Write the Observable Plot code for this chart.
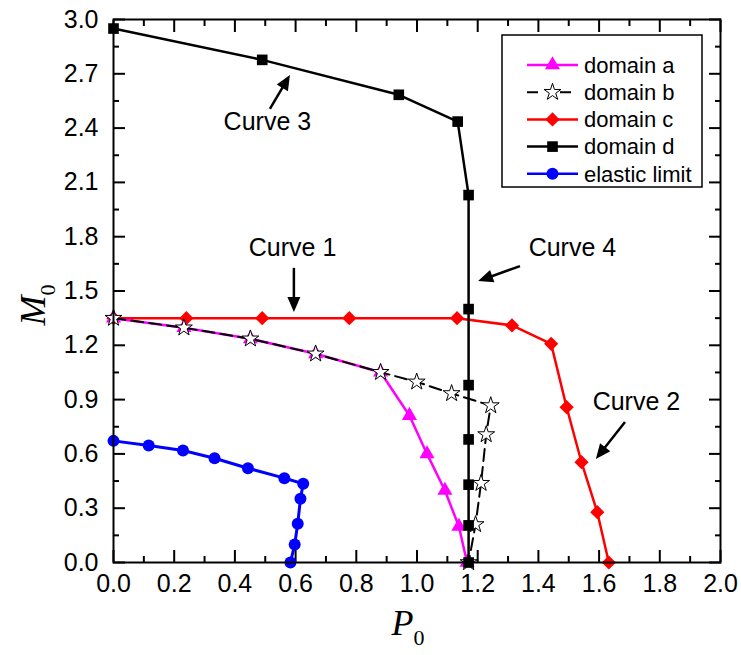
<!DOCTYPE html>
<html><head><meta charset="utf-8">
<script src="https://cdn.jsdelivr.net/npm/d3@7"></script>
<script src="https://cdn.jsdelivr.net/npm/@observablehq/plot@0.6"></script>
<style>
body{margin:0;background:#fff}
#chart{width:741px;height:655px}
</style>
</head><body><div id="chart"></div>
<script>
// ---- data: [P0, M0]
const domainA = [[0,1.35],[0.232,1.297],[0.451,1.236],[0.666,1.153],[0.88,1.051],[0.975,0.812],[1.033,0.60],[1.092,0.398],[1.138,0.199],[1.165,0]];
const domainB = [[0,1.35],[0.232,1.297],[0.451,1.236],[0.666,1.153],[0.88,1.051],[0.999,0.998],[1.114,0.934],[1.243,0.867],[1.228,0.707],[1.211,0.438],[1.193,0.21],[1.17,0]];
const domainC = [[0,1.35],[0.24,1.35],[0.49,1.35],[0.777,1.35],[1.132,1.35],[1.313,1.31],[1.442,1.208],[1.493,0.858],[1.542,0.554],[1.594,0.278],[1.632,0]];
const domainD = [[0,2.95],[0.49,2.777],[0.94,2.584],[1.134,2.436],[1.17,2.03],[1.17,1.40],[1.17,0.98],[1.17,0.68],[1.17,0.43],[1.17,0.205],[1.17,0]];
const elastic = [[0,0.672],[0.116,0.646],[0.229,0.619],[0.333,0.576],[0.443,0.521],[0.563,0.466],[0.625,0.435],[0.616,0.352],[0.607,0.214],[0.597,0.099],[0.583,0]];

const seriesNames = ["domain a","domain b","domain c","domain d","elastic limit"];
const xTickLabels = [0,0.2,0.4,0.6,0.8,1.0,1.2,1.4,1.6,1.8,2.0];
const xMinorTicks = [0.1,0.3,0.5,0.7,0.9,1.1,1.3,1.5,1.7,1.9];
const yTickLabels = [0,0.3,0.6,0.9,1.2,1.5,1.8,2.1,2.4,2.7,3.0];
const yMinorTicks = [0.15,0.45,0.75,1.05,1.35,1.65,1.95,2.25,2.55,2.85];

// annotations: label, text position, arrow tail, arrow tip
const annLabels = ["Curve 1","Curve 2","Curve 3","Curve 4"];
const annText = [[0.590,1.735],[1.723,0.884],[0.507,2.436],[1.512,1.735]];
const annTail = [[0.596,1.625],[1.687,0.773],[0.517,2.503],[1.341,1.635]];
const annTip  = [[0.596,1.381],[1.591,0.569],[0.583,2.691],[1.203,1.552]];

const rows = s => s.map(([p,m]) => ({p,m}));
const ann = annLabels.map((t,i) => ({t, x:annText[i][0], y:annText[i][1]}));

const FONT = "'Liberation Sans', Arial, sans-serif";

const plot = Plot.plot({
  width: 741, height: 655,
  marginLeft: 113, marginRight: 21, marginTop: 19, marginBottom: 93,
  style: {fontFamily: FONT, fontSize: "25px", color: "#000", background: "#fff", overflow: "visible"},
  x: {domain: [0, 2], label: null},
  y: {domain: [0, 3], label: null},
  marks: [
    // ticks (inward)
    Plot.axisX({anchor:"bottom", ticks: xTickLabels, tickSize: -12, text: null, strokeWidth: 2}),
    Plot.axisX({anchor:"bottom", ticks: xMinorTicks, tickSize: -6, text: null, strokeWidth: 2}),
    Plot.axisX({anchor:"top", ticks: xTickLabels, tickSize: -12, text: null, strokeWidth: 2}),
    Plot.axisX({anchor:"top", ticks: xMinorTicks, tickSize: -6, text: null, strokeWidth: 2}),
    Plot.axisY({anchor:"left", ticks: yTickLabels, tickSize: -12, text: null, strokeWidth: 2}),
    Plot.axisY({anchor:"left", ticks: yMinorTicks, tickSize: -6, text: null, strokeWidth: 2}),
    Plot.axisY({anchor:"right", ticks: yTickLabels, tickSize: -12, text: null, strokeWidth: 2}),
    Plot.axisY({anchor:"right", ticks: yMinorTicks, tickSize: -6, text: null, strokeWidth: 2}),
    // tick labels
    Plot.axisX({anchor:"bottom", ticks: xTickLabels, tickSize: 0, tickPadding: 12, tickFormat: d3.format(".1f"), fontSize: 25}),
    Plot.axisY({anchor:"left", ticks: yTickLabels, tickSize: 0, tickPadding: 15, tickFormat: d3.format(".1f"), fontSize: 25}),
    // series
    Plot.line(rows(elastic), {x:"p", y:"m", stroke:"#0000ff", strokeWidth: 3}),
    Plot.dot(rows(elastic), {x:"p", y:"m", fill:"#0000ff", r: 6, symbol:"circle"}),
    Plot.line(rows(domainC), {x:"p", y:"m", stroke:"#ff0000", strokeWidth: 2.5}),
    Plot.dot(rows(domainC), {x:"p", y:"m", fill:"#ff0000", r: 6.4, symbol:"diamond2"}),
    Plot.line(rows(domainA), {x:"p", y:"m", stroke:"#ff00ff", strokeWidth: 2.5}),
    Plot.dot(rows(domainA), {x:"p", y:"m", fill:"#ff00ff", r: 5.6, symbol:"triangle"}),
    Plot.line(rows(domainB), {x:"p", y:"m", stroke:"#000", strokeWidth: 2, strokeDasharray: "12,6"}),
    Plot.dot(rows(domainB), {x:"p", y:"m", fill:"#fff", stroke:"#000", strokeWidth: 1, r: 5.3, symbol:"star"}),
    Plot.line(rows(domainD), {x:"p", y:"m", stroke:"#000", strokeWidth: 2.5}),
    Plot.dot(rows(domainD), {x:"p", y:"m", fill:"#000", r: 6, symbol:"square"}),
    // annotation text
    Plot.text(ann, {x:"x", y:"y", text:"t", fontSize: 25, fill:"#000"}),
    Plot.frame({stroke:"#000", strokeWidth: 2})
  ]
});

document.getElementById("chart").appendChild(plot);
const svg = d3.select(plot);
const X = plot.scale("x").apply, Y = plot.scale("y").apply;

// arrows with filled heads
annLabels.forEach((t,i) => {
  const x1 = X(annTail[i][0]), y1 = Y(annTail[i][1]);
  const x2 = X(annTip[i][0]), y2 = Y(annTip[i][1]);
  const a = Math.atan2(y2-y1, x2-x1), L = 15, W = 6.5;
  const bx = x2 - L*Math.cos(a), by = y2 - L*Math.sin(a);
  svg.append("line").attr("x1",x1).attr("y1",y1).attr("x2",bx+2*Math.cos(a)).attr("y2",by+2*Math.sin(a))
    .attr("stroke","#000").attr("stroke-width",2.5);
  const px = -Math.sin(a), py = Math.cos(a);
  svg.append("path").attr("d",`M${x2},${y2}L${bx+W*px},${by+W*py}L${bx-W*px},${by-W*py}Z`).attr("fill","#000");
});

// axis titles with subscripts
const xt = svg.append("text").attr("x", 408).attr("y", 635).attr("text-anchor","middle")
  .attr("font-family","'Liberation Serif', 'Times New Roman', serif").attr("font-size",36).attr("fill","#000");
xt.append("tspan").attr("font-style","italic").text("P");
xt.append("tspan").attr("font-size",22).attr("dy",10).text("0");

const yt = svg.append("text").attr("transform","translate(45,305) rotate(-90)").attr("text-anchor","middle")
  .attr("font-family","'Liberation Serif', 'Times New Roman', serif").attr("font-size",36).attr("fill","#000");
yt.append("tspan").attr("font-style","italic").text("M");
yt.append("tspan").attr("font-size",22).attr("dy",10).text("0");

// legend
const lg = svg.append("g").attr("font-family", FONT).attr("font-size", 22).attr("text-anchor","start");
lg.append("rect").attr("x",502).attr("y",35).attr("width",200).attr("height",152)
  .attr("fill","#fff").attr("stroke","#000").attr("stroke-width",1.5);
const legStyle = [
  {c:"#ff00ff", sym:d3.symbolTriangle, r:5.6, fill:"#ff00ff", stroke:null, dash:null},
  {c:"#000", sym:d3.symbolStar, r:5.3, fill:"#fff", stroke:"#000", dash:"11,22"},
  {c:"#ff0000", sym:d3.symbolDiamond2, r:6.4, fill:"#ff0000", stroke:null, dash:null},
  {c:"#000", sym:d3.symbolSquare, r:6, fill:"#000", stroke:null, dash:null},
  {c:"#0000ff", sym:d3.symbolCircle, r:6, fill:"#0000ff", stroke:null, dash:null}
];
seriesNames.forEach((name,i) => {
  const yy = 65 + i*27.2, s = legStyle[i];
  const ln = lg.append("line").attr("x1",527).attr("x2", s.dash ? 572 : 578).attr("y1",yy).attr("y2",yy)
    .attr("stroke",s.c).attr("stroke-width", i===1 ? 2 : 2.5);
  if (s.dash) ln.attr("stroke-dasharray", s.dash);
  lg.append("path").attr("transform",`translate(552.5,${yy})`)
    .attr("d", d3.symbol(s.sym, Math.PI*s.r*s.r)())
    .attr("fill", s.fill).attr("stroke", s.stroke).attr("stroke-width", 1);
  lg.append("text").attr("x",584).attr("y",yy).attr("dy","0.35em").attr("fill","#000").text(name);
});
</script>
</body></html>
